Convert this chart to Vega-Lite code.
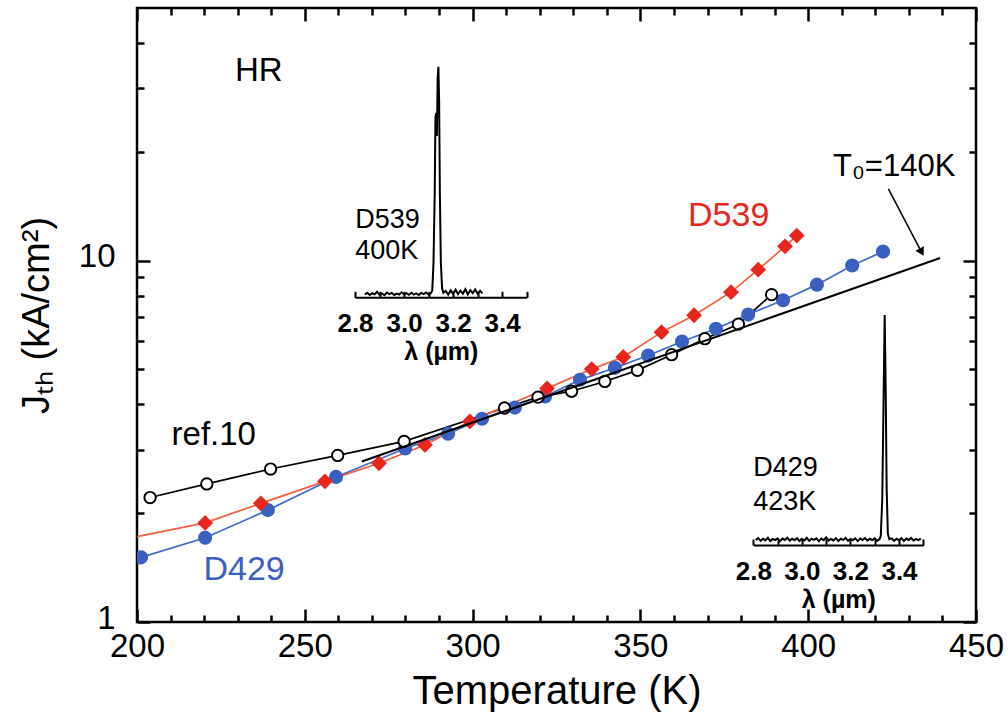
{
  "$schema": "https://vega.github.io/schema/vega-lite/v6.json",
  "width": 839,
  "height": 614,
  "autosize": {"type": "none"},
  "padding": {"left": 137, "top": 8, "right": 32, "bottom": 99},
  "background": "white",
  "config": {
    "view": {"stroke": "black", "strokeWidth": 2.5},
    "font": "Liberation Sans",
    "axis": {"grid": false, "labelColor": "black", "titleColor": "black", "tickColor": "black", "domainColor": "black", "labelFont": "Liberation Sans", "titleFont": "Liberation Sans"}
  },
  "datasets": {
    "d429": [
      {"T": 201.2, "J": 1.51}, {"T": 220.3, "J": 1.71}, {"T": 239.0, "J": 2.04}, {"T": 259.3, "J": 2.52},
      {"T": 279.9, "J": 3.02}, {"T": 292.7, "J": 3.32}, {"T": 302.8, "J": 3.65}, {"T": 312.6, "J": 3.92},
      {"T": 321.6, "J": 4.21}, {"T": 332.0, "J": 4.68}, {"T": 342.4, "J": 5.05}, {"T": 352.3, "J": 5.46},
      {"T": 362.4, "J": 5.97}, {"T": 372.5, "J": 6.48}, {"T": 382.1, "J": 7.09}, {"T": 392.5, "J": 7.77},
      {"T": 402.6, "J": 8.58}, {"T": 413.1, "J": 9.69}, {"T": 422.3, "J": 10.59}
    ],
    "d539": [
      {"T": 190.0, "J": 1.65}, {"T": 220.3, "J": 1.88}, {"T": 236.9, "J": 2.13}, {"T": 256.0, "J": 2.45},
      {"T": 272.1, "J": 2.75}, {"T": 285.8, "J": 3.09}, {"T": 299.2, "J": 3.59}, {"T": 322.2, "J": 4.43},
      {"T": 335.5, "J": 5.01}, {"T": 344.9, "J": 5.41}, {"T": 356.3, "J": 6.34}, {"T": 366.0, "J": 7.06},
      {"T": 377.0, "J": 8.18}, {"T": 385.1, "J": 9.44}, {"T": 393.1, "J": 10.95}, {"T": 396.6, "J": 11.73}
    ],
    "ref10": [
      {"T": 203.9, "J": 2.21}, {"T": 220.8, "J": 2.41}, {"T": 239.8, "J": 2.65}, {"T": 259.8, "J": 2.89},
      {"T": 279.6, "J": 3.16}, {"T": 309.5, "J": 3.91}, {"T": 319.5, "J": 4.19}, {"T": 329.5, "J": 4.35},
      {"T": 339.4, "J": 4.63}, {"T": 349.1, "J": 4.97}, {"T": 359.3, "J": 5.49}, {"T": 369.2, "J": 6.08},
      {"T": 379.2, "J": 6.67}, {"T": 389.1, "J": 8.05}
    ],
    "fit": [{"T": 267.0, "J": 2.78}, {"T": 439.3, "J": 10.17}],
    "arrow": [{"T": 423.9, "J": 15.8, "T2": 434.0, "J2": 10.45}],
    "arrowhead": [{"T": 433.8, "J": 10.55}],
    "blackText": [
      {"T": 229.2, "J": 33.4, "label": "HR"},
      {"T": 210.3, "J": 3.30, "label": "ref.10"}
    ],
    "t0Text": [{"T": 407.4, "J": 18.2, "label": "T₀=140K"}],
    "insetText": [
      {"T": 265.0, "J": 12.99, "label": "D539"},
      {"T": 265.0, "J": 10.61, "label": "400K"},
      {"T": 383.6, "J": 2.666, "label": "D429"},
      {"T": 383.6, "J": 2.154, "label": "423K"}
    ],
    "blueText": [{"T": 219.8, "J": 1.393, "label": "D429"}],
    "redText": [{"T": 364.2, "J": 13.27, "label": "D539"}],
    "spec539": [
      {"lam": 2.84, "I": 0.012}, {"lam": 2.85, "I": 0.020}, {"lam": 2.86, "I": 0.010}, {"lam": 2.87, "I": 0.018},
      {"lam": 2.88, "I": 0.013}, {"lam": 2.89, "I": 0.024}, {"lam": 2.90, "I": 0.011}, {"lam": 2.91, "I": 0.017},
      {"lam": 2.92, "I": 0.009}, {"lam": 2.93, "I": 0.021}, {"lam": 2.94, "I": 0.014}, {"lam": 2.95, "I": 0.019},
      {"lam": 2.96, "I": 0.010}, {"lam": 2.97, "I": 0.016}, {"lam": 2.98, "I": 0.012}, {"lam": 2.99, "I": 0.022},
      {"lam": 3.00, "I": 0.013}, {"lam": 3.01, "I": 0.018}, {"lam": 3.02, "I": 0.011}, {"lam": 3.03, "I": 0.020},
      {"lam": 3.04, "I": 0.012}, {"lam": 3.05, "I": 0.017}, {"lam": 3.06, "I": 0.010}, {"lam": 3.07, "I": 0.019},
      {"lam": 3.08, "I": 0.014}, {"lam": 3.09, "I": 0.021}, {"lam": 3.10, "I": 0.012}, {"lam": 3.11, "I": 0.018},
      {"lam": 3.115, "I": 0.030}, {"lam": 3.120, "I": 0.15}, {"lam": 3.125, "I": 0.45}, {"lam": 3.128, "I": 0.78},
      {"lam": 3.131, "I": 0.80}, {"lam": 3.134, "I": 0.70}, {"lam": 3.137, "I": 0.95}, {"lam": 3.140, "I": 1.0},
      {"lam": 3.143, "I": 0.85}, {"lam": 3.146, "I": 0.45}, {"lam": 3.150, "I": 0.15}, {"lam": 3.155, "I": 0.04},
      {"lam": 3.160, "I": 0.020}, {"lam": 3.17, "I": 0.028}, {"lam": 3.18, "I": 0.012}, {"lam": 3.19, "I": 0.030},
      {"lam": 3.20, "I": 0.015}, {"lam": 3.21, "I": 0.033}, {"lam": 3.22, "I": 0.014}, {"lam": 3.23, "I": 0.029},
      {"lam": 3.24, "I": 0.016}, {"lam": 3.25, "I": 0.035}, {"lam": 3.26, "I": 0.013}, {"lam": 3.27, "I": 0.031},
      {"lam": 3.28, "I": 0.018}, {"lam": 3.29, "I": 0.034}, {"lam": 3.30, "I": 0.015}, {"lam": 3.31, "I": 0.028},
      {"lam": 3.32, "I": 0.017}
    ],
    "spec429": [
      {"lam": 2.81, "I": 0.022}, {"lam": 2.82, "I": 0.030}, {"lam": 2.83, "I": 0.018}, {"lam": 2.84, "I": 0.027},
      {"lam": 2.85, "I": 0.020}, {"lam": 2.86, "I": 0.031}, {"lam": 2.87, "I": 0.017}, {"lam": 2.88, "I": 0.026},
      {"lam": 2.89, "I": 0.021}, {"lam": 2.90, "I": 0.029}, {"lam": 2.91, "I": 0.016}, {"lam": 2.92, "I": 0.028},
      {"lam": 2.93, "I": 0.022}, {"lam": 2.94, "I": 0.032}, {"lam": 2.95, "I": 0.019}, {"lam": 2.96, "I": 0.027},
      {"lam": 2.97, "I": 0.021}, {"lam": 2.98, "I": 0.030}, {"lam": 2.99, "I": 0.017}, {"lam": 3.00, "I": 0.026},
      {"lam": 3.01, "I": 0.020}, {"lam": 3.02, "I": 0.031}, {"lam": 3.03, "I": 0.018}, {"lam": 3.04, "I": 0.027},
      {"lam": 3.05, "I": 0.022}, {"lam": 3.06, "I": 0.029}, {"lam": 3.07, "I": 0.016}, {"lam": 3.08, "I": 0.028},
      {"lam": 3.09, "I": 0.021}, {"lam": 3.10, "I": 0.033}, {"lam": 3.11, "I": 0.019}, {"lam": 3.12, "I": 0.026},
      {"lam": 3.13, "I": 0.020}, {"lam": 3.14, "I": 0.030}, {"lam": 3.15, "I": 0.017}, {"lam": 3.16, "I": 0.027},
      {"lam": 3.17, "I": 0.022}, {"lam": 3.18, "I": 0.031}, {"lam": 3.19, "I": 0.018}, {"lam": 3.20, "I": 0.026},
      {"lam": 3.21, "I": 0.021}, {"lam": 3.22, "I": 0.029}, {"lam": 3.23, "I": 0.017}, {"lam": 3.24, "I": 0.028},
      {"lam": 3.25, "I": 0.022}, {"lam": 3.26, "I": 0.030}, {"lam": 3.27, "I": 0.019}, {"lam": 3.28, "I": 0.027},
      {"lam": 3.29, "I": 0.021}, {"lam": 3.30, "I": 0.029}, {"lam": 3.31, "I": 0.018}, {"lam": 3.32, "I": 0.026},
      {"lam": 3.325, "I": 0.04}, {"lam": 3.331, "I": 0.2}, {"lam": 3.336, "I": 0.6}, {"lam": 3.341, "I": 1.0},
      {"lam": 3.345, "I": 0.7}, {"lam": 3.349, "I": 0.25}, {"lam": 3.354, "I": 0.05}, {"lam": 3.36, "I": 0.025},
      {"lam": 3.37, "I": 0.029}, {"lam": 3.38, "I": 0.018}, {"lam": 3.39, "I": 0.027}, {"lam": 3.40, "I": 0.021},
      {"lam": 3.41, "I": 0.030}, {"lam": 3.42, "I": 0.017}, {"lam": 3.43, "I": 0.028}, {"lam": 3.44, "I": 0.022},
      {"lam": 3.45, "I": 0.031}, {"lam": 3.46, "I": 0.019}, {"lam": 3.47, "I": 0.026}, {"lam": 3.48, "I": 0.021},
      {"lam": 3.49, "I": 0.028}
    ]
  },
  "layer": [
    {
      "layer": [
        {
          "data": {"name": "ref10"},
          "mark": {"type": "line", "color": "black", "strokeWidth": 1.7, "clip": true},
          "encoding": {
            "x": {"field": "T", "type": "quantitative", "scale": {"domain": [200, 450], "nice": false, "zero": false},
              "axis": {"orient": "bottom", "values": [200, 250, 300, 350, 400, 450], "format": "d", "tickSize": -13, "tickWidth": 2.5, "domain": false,
                "labelFontSize": 33, "labelPadding": 21, "labelFlush": false, "labelOverlap": false,
                "title": "Temperature (K)", "titleFontSize": 40, "titleFontWeight": "normal", "titlePadding": 8}},
            "y": {"field": "J", "type": "quantitative", "scale": {"type": "log", "domain": [1, 50], "nice": false},
              "axis": {"orient": "left", "values": [1, 10], "format": "d", "tickSize": -13, "tickWidth": 2.5, "domain": false,
                "labelFontSize": 33, "labelPadding": 35, "labelOffset": -4, "labelFlush": false, "labelOverlap": false,
                "title": "Jₜₕ (kA/cm²)", "titleFontSize": 38, "titleFontWeight": "normal", "titlePadding": 22}}
          }
        },
        {
          "data": {"name": "d429"},
          "mark": {"type": "line", "color": "#3d6cc9", "strokeWidth": 1.7, "clip": true},
          "encoding": {
            "x": {"field": "T", "type": "quantitative", "scale": {"domain": [200, 450], "nice": false, "zero": false},
              "axis": {"orient": "bottom", "values": [210, 220, 230, 240, 260, 270, 280, 290, 310, 320, 330, 340, 360, 370, 380, 390, 410, 420, 430, 440],
                "tickSize": -7, "tickWidth": 2.5, "domain": false, "labels": false, "title": null}},
            "y": {"field": "J", "type": "quantitative", "scale": {"type": "log", "domain": [1, 50], "nice": false},
              "axis": {"orient": "left", "values": [2, 3, 4, 5, 6, 7, 8, 9, 20, 30, 40],
                "tickSize": -7, "tickWidth": 2.5, "domain": false, "labels": false, "title": null}}
          }
        },
        {
          "data": {"name": "d539"},
          "mark": {"type": "line", "color": "#f2603f", "strokeWidth": 1.7, "clip": true},
          "encoding": {
            "x": {"field": "T", "type": "quantitative", "scale": {"domain": [200, 450], "nice": false, "zero": false},
              "axis": {"orient": "top", "values": [200, 250, 300, 350, 400, 450], "tickSize": -13, "tickWidth": 2.5, "domain": false, "labels": false, "title": null}},
            "y": {"field": "J", "type": "quantitative", "scale": {"type": "log", "domain": [1, 50], "nice": false},
              "axis": {"orient": "right", "values": [1, 10], "tickSize": -13, "tickWidth": 2.5, "domain": false, "labels": false, "title": null}}
          }
        },
        {
          "data": {"name": "d429"},
          "mark": {"type": "point", "shape": "circle", "filled": true, "color": "#3a60c2", "opacity": 1, "size": 200, "clip": true},
          "encoding": {
            "x": {"field": "T", "type": "quantitative", "scale": {"domain": [200, 450], "nice": false, "zero": false},
              "axis": {"orient": "top", "values": [210, 220, 230, 240, 260, 270, 280, 290, 310, 320, 330, 340, 360, 370, 380, 390, 410, 420, 430, 440],
                "tickSize": -7, "tickWidth": 2.5, "domain": false, "labels": false, "title": null}},
            "y": {"field": "J", "type": "quantitative", "scale": {"type": "log", "domain": [1, 50], "nice": false},
              "axis": {"orient": "right", "values": [2, 3, 4, 5, 6, 7, 8, 9, 20, 30, 40],
                "tickSize": -7, "tickWidth": 2.5, "domain": false, "labels": false, "title": null}}
          }
        },
        {
          "data": {"name": "ref10"},
          "mark": {"type": "point", "shape": "circle", "filled": true, "fill": "white", "stroke": "black", "strokeWidth": 1.9, "opacity": 1, "size": 130, "clip": true},
          "encoding": {
            "x": {"field": "T", "type": "quantitative", "scale": {"domain": [200, 450], "nice": false, "zero": false}, "axis": null},
            "y": {"field": "J", "type": "quantitative", "scale": {"type": "log", "domain": [1, 50], "nice": false}, "axis": null}
          }
        },
        {
          "data": {"name": "d539"},
          "mark": {"type": "point", "shape": "diamond", "filled": true, "color": "#e8261d", "opacity": 1, "size": 250, "clip": true},
          "encoding": {
            "x": {"field": "T", "type": "quantitative", "scale": {"domain": [200, 450], "nice": false, "zero": false}, "axis": null},
            "y": {"field": "J", "type": "quantitative", "scale": {"type": "log", "domain": [1, 50], "nice": false}, "axis": null}
          }
        },
        {
          "data": {"name": "fit"},
          "mark": {"type": "line", "color": "black", "strokeWidth": 2, "clip": true},
          "encoding": {
            "x": {"field": "T", "type": "quantitative", "scale": {"domain": [200, 450], "nice": false, "zero": false}, "axis": null},
            "y": {"field": "J", "type": "quantitative", "scale": {"type": "log", "domain": [1, 50], "nice": false}, "axis": null}
          }
        },
        {
          "data": {"name": "arrow"},
          "mark": {"type": "rule", "color": "black", "strokeWidth": 1.5},
          "encoding": {
            "x": {"field": "T", "type": "quantitative", "scale": {"domain": [200, 450], "nice": false, "zero": false}, "axis": null},
            "y": {"field": "J", "type": "quantitative", "scale": {"type": "log", "domain": [1, 50], "nice": false}, "axis": null},
            "x2": {"field": "T2"},
            "y2": {"field": "J2"}
          }
        },
        {
          "data": {"name": "arrowhead"},
          "mark": {"type": "point", "shape": "triangle-up", "filled": true, "color": "black", "opacity": 1, "size": 90, "angle": 152},
          "encoding": {
            "x": {"field": "T", "type": "quantitative", "scale": {"domain": [200, 450], "nice": false, "zero": false}, "axis": null},
            "y": {"field": "J", "type": "quantitative", "scale": {"type": "log", "domain": [1, 50], "nice": false}, "axis": null}
          }
        },
        {
          "data": {"name": "blackText"},
          "mark": {"type": "text", "align": "left", "baseline": "middle", "fontSize": 33, "color": "black", "font": "Liberation Sans"},
          "encoding": {
            "x": {"field": "T", "type": "quantitative", "scale": {"domain": [200, 450], "nice": false, "zero": false}, "axis": null},
            "y": {"field": "J", "type": "quantitative", "scale": {"type": "log", "domain": [1, 50], "nice": false}, "axis": null},
            "text": {"field": "label"}
          }
        },
        {
          "data": {"name": "t0Text"},
          "mark": {"type": "text", "align": "left", "baseline": "middle", "fontSize": 31, "color": "black", "font": "Liberation Sans"},
          "encoding": {
            "x": {"field": "T", "type": "quantitative", "scale": {"domain": [200, 450], "nice": false, "zero": false}, "axis": null},
            "y": {"field": "J", "type": "quantitative", "scale": {"type": "log", "domain": [1, 50], "nice": false}, "axis": null},
            "text": {"field": "label"}
          }
        },
        {
          "data": {"name": "insetText"},
          "mark": {"type": "text", "align": "left", "baseline": "middle", "fontSize": 27, "color": "black", "font": "Liberation Sans"},
          "encoding": {
            "x": {"field": "T", "type": "quantitative", "scale": {"domain": [200, 450], "nice": false, "zero": false}, "axis": null},
            "y": {"field": "J", "type": "quantitative", "scale": {"type": "log", "domain": [1, 50], "nice": false}, "axis": null},
            "text": {"field": "label"}
          }
        },
        {
          "data": {"name": "blueText"},
          "mark": {"type": "text", "align": "left", "baseline": "middle", "fontSize": 34, "color": "#3a60c2", "font": "Liberation Sans"},
          "encoding": {
            "x": {"field": "T", "type": "quantitative", "scale": {"domain": [200, 450], "nice": false, "zero": false}, "axis": null},
            "y": {"field": "J", "type": "quantitative", "scale": {"type": "log", "domain": [1, 50], "nice": false}, "axis": null},
            "text": {"field": "label"}
          }
        },
        {
          "data": {"name": "redText"},
          "mark": {"type": "text", "align": "left", "baseline": "middle", "fontSize": 34, "color": "#e8261d", "font": "Liberation Sans"},
          "encoding": {
            "x": {"field": "T", "type": "quantitative", "scale": {"domain": [200, 450], "nice": false, "zero": false}, "axis": null},
            "y": {"field": "J", "type": "quantitative", "scale": {"type": "log", "domain": [1, 50], "nice": false}, "axis": null},
            "text": {"field": "label"}
          }
        }
      ],
      "resolve": {"axis": {"x": "independent", "y": "independent"}}
    },
    {
      "data": {"name": "spec539"},
      "mark": {"type": "line", "color": "black", "strokeWidth": 2},
      "encoding": {
        "x": {"field": "lam", "type": "quantitative", "scale": {"domain": [2.8, 3.5], "range": [218, 389.7], "nice": false, "zero": false},
          "axis": {"orient": "bottom", "offset": -324.7, "values": [2.8, 2.9, 3.0, 3.1, 3.2, 3.3, 3.4, 3.5],
            "labelExpr": "indexof([2.8, 3, 3.2, 3.4], datum.value) >= 0 ? format(datum.value, '.1f') : ''",
            "tickSize": -6, "tickWidth": 2, "domain": true, "domainWidth": 2,
            "labelFontSize": 26, "labelFontWeight": "bold", "labelPadding": 19, "labelFlush": false, "labelOverlap": false,
            "title": "λ (µm)", "titleFontSize": 25, "titleFontWeight": "bold", "titlePadding": 3}},
        "y": {"field": "I", "type": "quantitative", "scale": {"domain": [0, 1], "range": [289.3, 58.7], "nice": false, "zero": false}, "axis": null}
      }
    },
    {
      "data": {"name": "spec429"},
      "mark": {"type": "line", "color": "black", "strokeWidth": 2},
      "encoding": {
        "x": {"field": "lam", "type": "quantitative", "scale": {"domain": [2.8, 3.5], "range": [616.3, 786.3], "nice": false, "zero": false},
          "axis": {"orient": "bottom", "offset": -77, "values": [2.8, 2.9, 3.0, 3.1, 3.2, 3.3, 3.4, 3.5],
            "labelExpr": "indexof([2.8, 3, 3.2, 3.4], datum.value) >= 0 ? format(datum.value, '.1f') : ''",
            "tickSize": -6, "tickWidth": 2, "domain": true, "domainWidth": 2,
            "labelFontSize": 26, "labelFontWeight": "bold", "labelPadding": 19, "labelFlush": false, "labelOverlap": false,
            "title": "λ (µm)", "titleFontSize": 25, "titleFontWeight": "bold", "titlePadding": 3}},
        "y": {"field": "I", "type": "quantitative", "scale": {"domain": [0, 1], "range": [537, 307], "nice": false, "zero": false}, "axis": null}
      }
    }
  ],
  "resolve": {"scale": {"x": "independent", "y": "independent"}, "axis": {"x": "independent", "y": "independent"}}
}
